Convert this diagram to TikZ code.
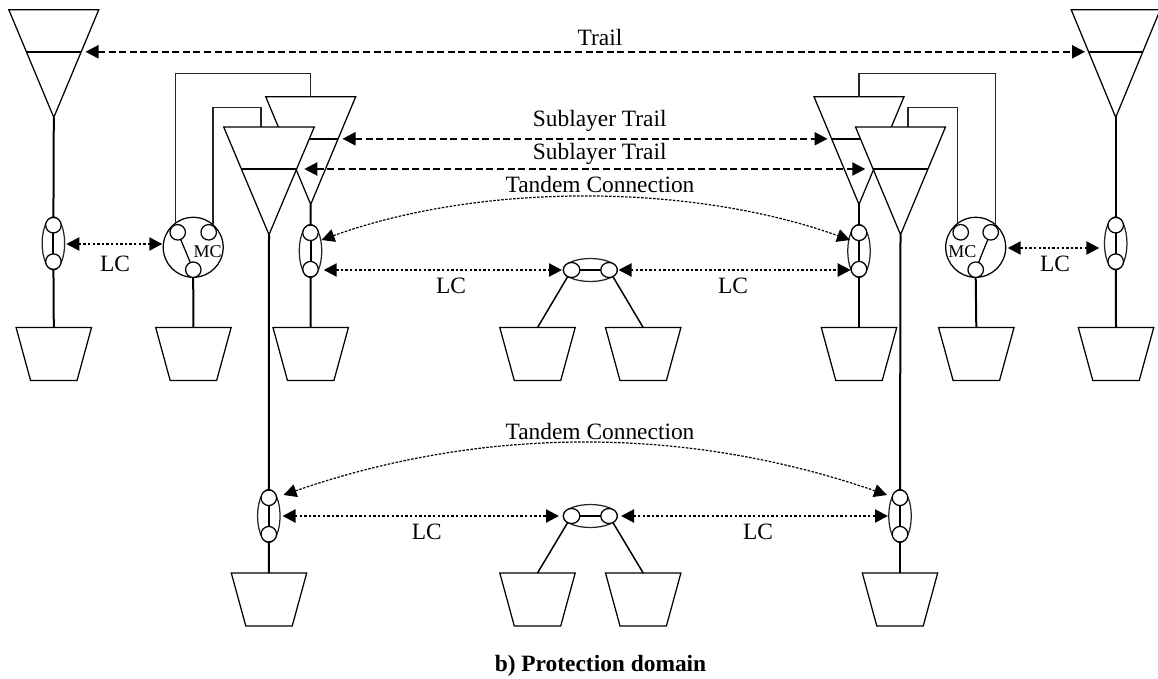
\documentclass[tikz,border=0pt]{standalone}
\usepackage{fontspec}
\setmainfont{Liberation Serif}
\usetikzlibrary{shapes.geometric,arrows.meta,calc}
\tikzset{
  thinl/.style={line width=1.25pt,draw=black!85},
  thickl/.style={line width=2pt,draw=black},
  dot/.style={circle,draw=black,line width=1.25pt,fill=white,minimum size=15.5pt,inner sep=0pt,outer sep=0pt},
  dotw/.style={ellipse,draw=black,line width=1.25pt,fill=white,minimum width=16.5pt,minimum height=15pt,inner sep=0pt,outer sep=0pt},
  ovalv/.style={ellipse,draw=black!85,line width=1.25pt,minimum width=22.5pt,minimum height=53pt,inner sep=0pt,outer sep=0pt},
  ovalh/.style={ellipse,draw=black!85,line width=1.25pt,minimum width=54pt,minimum height=23pt,inner sep=0pt,outer sep=0pt},
  mcbig/.style={circle,draw=black,line width=1.25pt,fill=white,minimum size=60pt,inner sep=0pt,outer sep=0pt},
  lbl/.style={inner sep=0pt,anchor=base,font=\fontsize{23.4}{25}\selectfont},
  mclbl/.style={inner sep=0pt,anchor=base,font=\fontsize{18}{20}\selectfont},
  dasharr/.style={line width=2.2pt,dash pattern=on 7pt off 3.6pt,{Triangle[length=13pt,width=13pt]}-{Triangle[length=13pt,width=13pt]}},
  dotarr/.style={line width=2.2pt,dash pattern=on 2.4pt off 2.2pt,{Triangle[length=13pt,width=13pt]}-{Triangle[length=13pt,width=13pt]}},
  tcarr/.style={line width=1.2pt,dash pattern=on 2.5pt off 1.5pt,{Triangle[length=13pt,width=13pt]}-{Triangle[length=13pt,width=13pt]}},
}
% sink triangle: name, centre x, top y, half width
\newcommand{\TriShape}[4]{%
  \coordinate (#1-top) at (#2,#3);
  \coordinate (#1-apex) at (#2,#3+107.7);
  \draw[thinl,draw=black,fill=white] (#2-#4,#3) -- (#2+#4,#3) -- (#1-apex) -- cycle;
  \coordinate (#1-bl) at (#2-0.608*#4,#3+42.2);
  \coordinate (#1-br) at (#2+0.608*#4,#3+42.2);
  \draw[thickl] (#1-bl) -- (#1-br);
}
% source trapezoid: name, centre x, top y
\newcommand{\TrapShape}[3]{%
  \coordinate (#1) at (#2,#3);
  \draw[thinl,draw=black,fill=white] (#2-37.7,#3) -- (#2+37.7,#3) -- (#2+23.2,#3+53) -- (#2-23.2,#3+53) -- cycle;
}
% vertical link connection: name, x, centre y
\newcommand{\LinkV}[3]{%
  \node[ovalv] (#1) at (#2,#3) {};
  \node[dot] (#1a) at (#2,#3-18.2) {};
  \node[dot] (#1b) at (#2,#3+18.2) {};
  \draw[thickl] (#1a) -- (#1b);
}
% horizontal link connection: name, centre x, y
\newcommand{\LinkH}[3]{%
  \node[ovalh] (#1) at (#2,#3) {};
  \node[dotw] (#1a) at (#2-18.7,#3) {};
  \node[dotw] (#1b) at (#2+18.7,#3) {};
  \draw[thickl] (#1a) -- (#1b);
}
\begin{document}
\begin{tikzpicture}[x=1pt,y=-1pt]
\useasboundingbox (0,0) rectangle (1158,679);
% trapezoids
\TrapShape{tz1}{53.8}{327.6}
\TrapShape{tz2}{193.4}{327.6}
\TrapShape{tz3}{310.7}{327.6}
\TrapShape{tz4}{537.5}{327.6}
\TrapShape{tz5}{643.2}{327.6}
\TrapShape{tz6}{859}{327.6}
\TrapShape{tz7}{976.3}{327.6}
\TrapShape{tz8}{1116}{327.6}
\TrapShape{tz9}{269}{573}
\TrapShape{tz10}{537.5}{573}
\TrapShape{tz11}{643.2}{573}
\TrapShape{tz12}{900}{573}
% back triangles
\TriShape{t1}{53.8}{9.7}{45}
\TriShape{t2}{310.7}{96.7}{45}
\TriShape{t4}{859}{96.7}{45}
\TriShape{t6}{1115.7}{9.7}{44.5}
% matrix connections
\coordinate (mw1) at (310.7,73.7);
\coordinate (mw2) at (261,107.7);
\coordinate (mw3) at (859,73.7);
\coordinate (mw4) at (908,107.7);
\coordinate (ft1) at (261,127);
\coordinate (ft2) at (908,127);
\node[mcbig] (mcl) at (193.2,247.3) {};
\node[mcbig] (mcr) at (975.7,247.3) {};
\draw[thinl] (mcl.127) |- (mw1) -- (t2-top);
\draw[thinl] (mcl.49.5) |- (mw2) -- (ft1);
\draw[thinl] (mcr.49.5) |- (mw3) -- (t4-top);
\draw[thinl] (mcr.127) |- (mw4) -- (ft2);
\node[dot] (ml1) at (177.7,232.3) {};
\node[dot] (ml2) at (208.7,232.3) {};
\node[dot] (ml3) at (193.3,269.7) {};
\node[dot] (mr1) at (960.7,232.3) {};
\node[dot] (mr2) at (990.7,232.3) {};
\node[dot] (mr3) at (975.7,269.7) {};
\draw[line width=1.25pt] (ml1) -- (ml3);
\draw[line width=1.25pt] (mr2) -- (mr3);
\node[mclbl] (mct1) at (207.7,257.3) {MC};
\node[mclbl] (mct2) at (962.3,257.3) {MC};
% front triangles
\TriShape{t3}{269}{127}{45.3}
\TriShape{t5}{900.5}{127}{45}
% link connections
\LinkV{o1}{53.4}{243.4}
\LinkV{o2}{310.5}{251}
\LinkV{o3}{859}{251}
\LinkV{o4}{1115.7}{243.4}
\LinkV{o5}{268.8}{516}
\LinkV{o6}{900}{516}
\LinkH{h1}{590.3}{270}
\LinkH{h2}{590.3}{516}
% vertical trunks
\draw[thickl] (t1-apex) -- (o1a);
\draw[thickl] (o1b) -- (tz1);
\draw[thickl] (mcl.south) -- (tz2);
\draw[thickl] (t2-apex) -- (o2a);
\draw[thickl] (o2b) -- (tz3);
\draw[thickl] (t4-apex) -- (o3a);
\draw[thickl] (o3b) -- (tz6);
\draw[thickl] (mcr.south) -- (tz7);
\draw[thickl] (t6-apex) -- (o4a);
\draw[thickl] (o4b) -- (tz8);
\draw[thickl] (t3-apex) -- (o5a);
\draw[thickl] (o5b) -- (tz9);
\draw[thickl] (t5-apex) -- (o6a);
\draw[thickl] (o6b) -- (tz12);
\draw[line width=1.5pt] (h1a) -- (tz4);
\draw[line width=1.5pt] (h1b) -- (tz5);
\draw[line width=1.5pt] (h2a) -- (tz10);
\draw[line width=1.5pt] (h2b) -- (tz11);
% arrow ends
\coordinate (a1l) at (85.5,51.8);   \coordinate (a1r) at (1085,51.8);
\coordinate (a2l) at (342.5,138.8); \coordinate (a2r) at (827.5,138.8);
\coordinate (a3l) at (304.3,169);   \coordinate (a3r) at (865.3,169);
\coordinate (a4l) at (66.3,244);    \coordinate (a4r) at (162.3,244);
\coordinate (a5l) at (1007.7,248);  \coordinate (a5r) at (1099.3,248);
\coordinate (a6l) at (323.7,270);   \coordinate (a6r) at (562,270);
\coordinate (a7l) at (618.5,270);   \coordinate (a7r) at (850.7,270);
\coordinate (a8l) at (282.5,516);   \coordinate (a8r) at (559,516);
\coordinate (a9l) at (621,516);     \coordinate (a9r) at (888,516);
\coordinate (c1l) at (321.5,240);   \coordinate (c1r) at (850,240);
\coordinate (c2l) at (283.5,495);   \coordinate (c2r) at (887,495);
\draw[dasharr] (a1l) -- (a1r);
\draw[dasharr] (a2l) -- (a2r);
\draw[dasharr] (a3l) -- (a3r);
\draw[dotarr] (a4l) -- (a4r);
\draw[dotarr] (a5l) -- (a5r);
\draw[dotarr] (a6l) -- (a6r);
\draw[dotarr] (a7l) -- (a7r);
\draw[dotarr] (a8l) -- (a8r);
\draw[dotarr] (a9l) -- (a9r);
\draw[tcarr] (c1l) .. controls (480,182.7) and (690,182.7) .. (c1r);
\draw[tcarr] (c2l) .. controls (483,425.7) and (687,425.7) .. (c2r);
% labels
\node[lbl] (l1) at (600,46) {Trail};
\node[lbl] (l2) at (599.7,126.7) {Sublayer Trail};
\node[lbl] (l3) at (599.7,160) {Sublayer Trail};
\node[lbl] (l4) at (600,193) {Tandem Connection};
\node[lbl] (l5) at (600,439.3) {Tandem Connection};
\node[lbl] (l6) at (115,271.7) {LC};
\node[lbl] (l7) at (1055,271.7) {LC};
\node[lbl] (l8) at (451,293) {LC};
\node[lbl] (l9) at (733,293) {LC};
\node[lbl] (l10) at (426.7,539.3) {LC};
\node[lbl] (l11) at (758,539.3) {LC};
\node[inner sep=0pt,anchor=base,font=\fontsize{23.4}{25}\selectfont\bfseries] (cap) at (600.5,671.6) {b) Protection domain};
\end{tikzpicture}
\end{document}
